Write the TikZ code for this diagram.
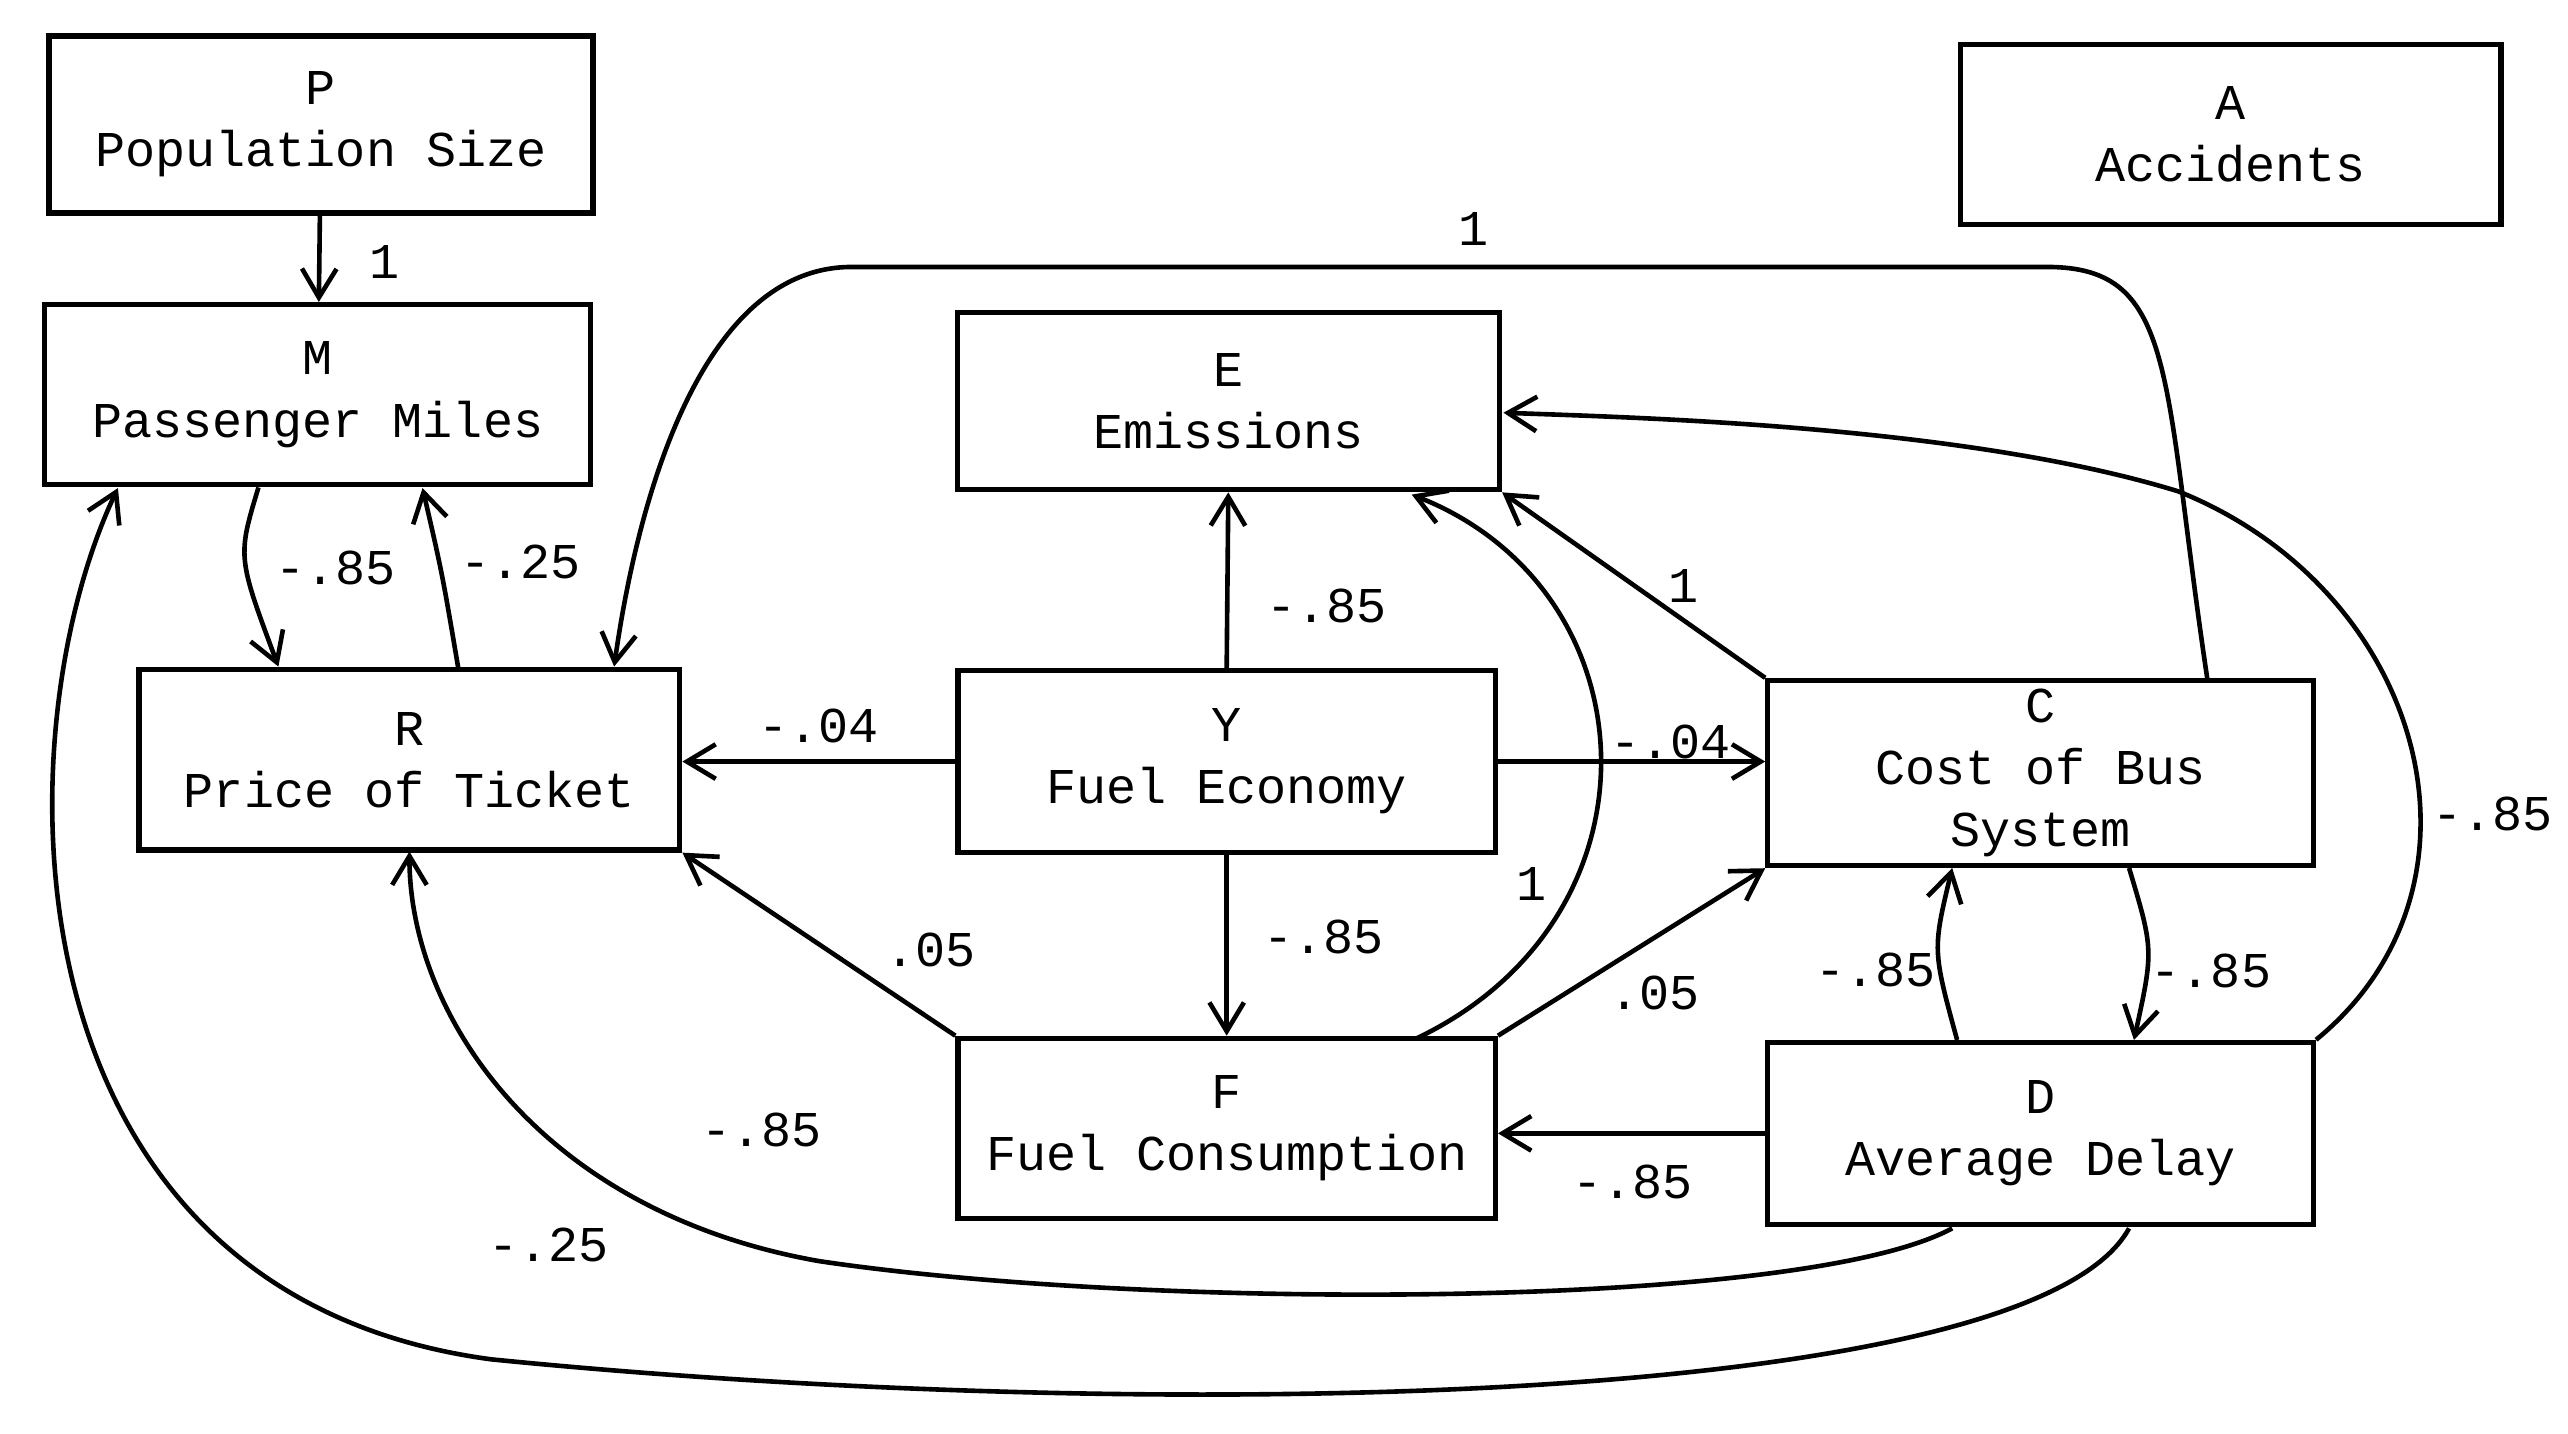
\documentclass[tikz,border=0pt]{standalone}
\usepackage{fontspec}
\setmainfont{Liberation Mono}
\usetikzlibrary{arrows.meta}
\begin{document}
\begin{tikzpicture}[x=0.01cm,y=-0.01cm,
 box/.style={draw,line width=0.9pt,inner sep=0pt,align=center,font=\fontsize{8.7}{10.8}\selectfont},
 ed/.style={line width=0.8pt,-{Straight Barb[length=5pt,width=6pt]}},
 lb/.style={font=\fontsize{8.7}{10}\selectfont}]
\useasboundingbox (0,0) rectangle (1568,875);
\fill[white] (0,0) rectangle (1568,875);
\node[box,minimum width=3.32cm,minimum height=1.08cm] (P) at (196,76) {P\\Population Size};
\node[box,minimum width=3.30cm,minimum height=1.10cm] (A) at (1362,82) {A\\Accidents};
\node[box,minimum width=3.33cm,minimum height=1.10cm] (M) at (194,241) {M\\Passenger Miles};
\node[box,minimum width=3.31cm,minimum height=1.08cm] (E) at (750,245) {E\\Emissions};
\node[box,minimum width=3.30cm,minimum height=1.10cm] (R) at (250,464) {R\\Price of Ticket};
\node[box,minimum width=3.28cm,minimum height=1.11cm] (Y) at (749,465) {Y\\Fuel Economy};
\node[box,minimum width=3.33cm,minimum height=1.13cm] (C) at (1246,472) {C\\Cost of Bus\\System};
\node[box,minimum width=3.28cm,minimum height=1.10cm] (F) at (749,689) {F\\Fuel Consumption};
\node[box,minimum width=3.33cm,minimum height=1.11cm] (D) at (1246,692) {D\\Average Delay};

\draw[ed] (P) -- (M); \node[lb] (l1) at (235,160) {1};
\draw[ed] (M.south west)++(132,0) coordinate (m1) .. controls (145,340) .. (170,407) coordinate (r1);
\node[lb] (l2) at (205,347) {-.85};
\draw[ed] (280,409) coordinate (r2) .. controls (270,350) .. (258,298) coordinate (m2);
\node[lb] (l3) at (318,343) {-.25};
\draw[ed] (Y.north) -- (E.south); \node[lb] (l4) at (810,370) {-.85};
\draw[ed] (Y.west) -- (R.east |- Y.west); \node[lb] (l5) at (500,443) {-.04};
\draw[ed] (Y.east) -- (C.west |- Y.east); \node[lb] (l6) at (1020,453) {-.04};
\draw[ed] (Y.south) -- (F.north); \node[lb] (l7) at (808,572) {-.85};
\draw[ed] (F.north west) -- (R.south east); \node[lb] (l8) at (568,580) {.05};
\draw[ed] (F.north east) -- (C.south west); \node[lb] (l9) at (1010,606) {.05};
\draw[ed] (865,634) coordinate (f1) .. controls (1020,560) and (1010,360) .. (862,302) coordinate (e1);
\node[lb] (l10) at (935,540) {1};
\draw[ed] (C.north west) -- (E.south east); \node[lb] (l11) at (1028,358) {1};
\draw[ed] (1348,416) coordinate (c1) .. controls (1320,230) and (1330,163) .. (1250,163) -- (520,163) .. controls (430,163) and (390,300) .. (375,407) coordinate (r3);
\node[lb] (l12) at (900,140) {1};
\draw[ed] (D.north east) .. controls (1530,540) and (1480,360) .. (1330,300) .. controls (1200,260) and (1000,255) .. (918,252) coordinate (e2);
\node[lb] (l13) at (1522,497) {-.85};
\draw[ed] (1300,530) coordinate (c2) .. controls (1315,580) .. (1303,635) coordinate (d1);
\node[lb] (l14) at (1350,593) {-.85};
\draw[ed] (1195,635) coordinate (d2) .. controls (1180,580) .. (1192,530) coordinate (c3);
\node[lb] (l15) at (1145,592) {-.85};
\draw[ed] (D.west) -- (F.east |- D.west); \node[lb] (l16) at (997,722) {-.85};
\draw[ed] (1192,750) coordinate (d3) .. controls (1100,800) and (700,800) .. (500,770) .. controls (330,740) and (250,620) .. (250,520) coordinate (r4);
\node[lb] (l17) at (465,690) {-.85};
\draw[ed] (1300,750) coordinate (d4) .. controls (1240,860) and (700,870) .. (300,830) .. controls (0,790) and (0,450) .. (72,298) coordinate (m3);
\node[lb] (l18) at (335,760) {-.25};
\end{tikzpicture}
\end{document}
